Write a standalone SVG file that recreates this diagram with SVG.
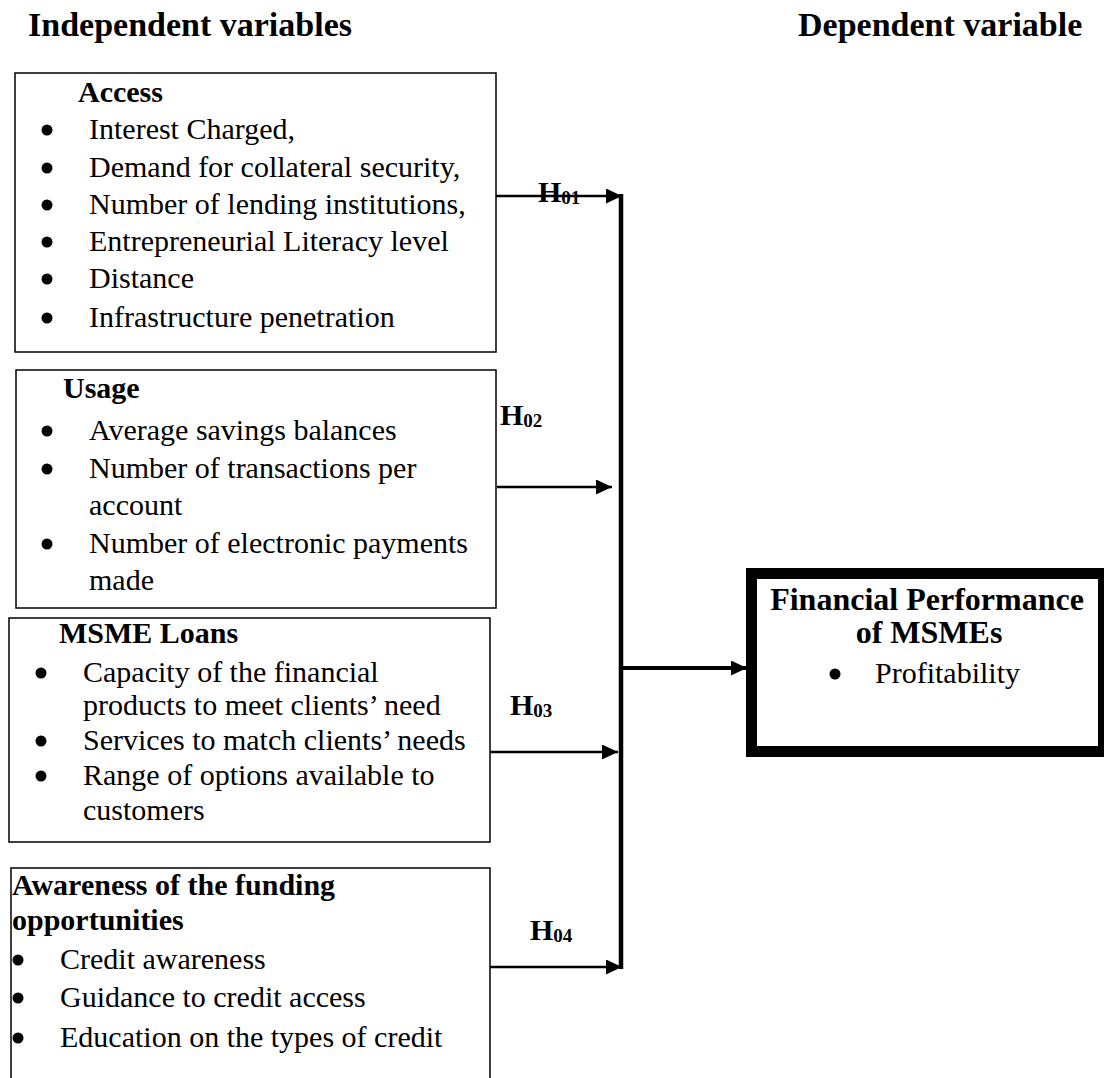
<svg xmlns="http://www.w3.org/2000/svg" width="1104" height="1078" viewBox="0 0 1104 1078">
<style>
.t{font-family:"Liberation Serif","Times New Roman",serif;font-size:30px;fill:#000}
.b{font-weight:bold}
.h{font-size:34px;font-weight:bold}
.c{text-anchor:middle}
.sub{font-size:19px}
.box{fill:#fff;stroke:#000;stroke-width:1.5}
.dot{fill:#000}
.conn{stroke:#000;stroke-width:2.5;fill:none}
</style>
<defs>
<marker id="ah" markerUnits="userSpaceOnUse" markerWidth="17" markerHeight="15" refX="16" refY="7.5" orient="auto">
<path d="M0,0 L16,7.5 L0,15 z" fill="#000"/>
</marker>
</defs>
<rect width="1104" height="1078" fill="#fff"/>
<g id="headers">
<text class="t h" x="28" y="36">Independent variables</text>
<text class="t h" x="798" y="36">Dependent variable</text>
</g>
<g id="access">
<rect class="box" x="15" y="73" width="481" height="279"/>
<text class="t b" x="78" y="102">Access</text>
<circle class="dot" cx="47" cy="130" r="5.5"/><text class="t" x="89" y="139">Interest Charged,</text>
<circle class="dot" cx="47" cy="168" r="5.5"/><text class="t" x="89" y="177">Demand for collateral security,</text>
<circle class="dot" cx="47" cy="205" r="5.5"/><text class="t" x="89" y="214">Number of lending institutions,</text>
<circle class="dot" cx="47" cy="242" r="5.5"/><text class="t" x="89" y="251">Entrepreneurial Literacy level</text>
<circle class="dot" cx="47" cy="279" r="5.5"/><text class="t" x="89" y="288">Distance</text>
<circle class="dot" cx="47" cy="318" r="5.5"/><text class="t" x="89" y="327">Infrastructure penetration</text>
</g>
<g id="usage">
<rect class="box" x="16" y="370" width="480" height="238"/>
<text class="t b" x="63" y="398">Usage</text>
<circle class="dot" cx="47" cy="431" r="5.5"/><text class="t" x="89" y="440">Average savings balances</text>
<circle class="dot" cx="47" cy="469" r="5.5"/><text class="t" x="89" y="478">Number of transactions per</text>
<text class="t" x="89" y="515">account</text>
<circle class="dot" cx="47" cy="544" r="5.5"/><text class="t" x="89" y="553">Number of electronic payments</text>
<text class="t" x="89" y="590">made</text>
</g>
<g id="loans">
<rect class="box" x="9" y="618" width="481" height="224"/>
<text class="t b" x="59" y="643">MSME Loans</text>
<circle class="dot" cx="41" cy="673" r="5.5"/><text class="t" x="83" y="682">Capacity of the financial</text>
<text class="t" x="83" y="715">products to meet clients’ need</text>
<circle class="dot" cx="41" cy="741" r="5.5"/><text class="t" x="83" y="750">Services to match clients’ needs</text>
<circle class="dot" cx="41" cy="776" r="5.5"/><text class="t" x="83" y="785">Range of options available to</text>
<text class="t" x="83" y="820">customers</text>
</g>
<g id="awareness">
<path class="box" d="M11,1078 L11,868 L490,868 L490,1078"/>
<text class="t b" x="12" y="895">Awareness of the funding</text>
<text class="t b" x="12" y="930">opportunities</text>
<circle class="dot" cx="18" cy="960" r="5.5"/><text class="t" x="60" y="969">Credit awareness</text>
<circle class="dot" cx="18" cy="998" r="5.5"/><text class="t" x="60" y="1007">Guidance to credit access</text>
<circle class="dot" cx="18" cy="1038" r="5.5"/><text class="t" x="60" y="1047">Education on the types of credit</text>
</g>
<g id="performance">
<rect x="751.5" y="573.5" width="352" height="178" fill="#fff" stroke="#000" stroke-width="11"/>
<text class="t b c" x="927" y="610" style="font-size:32px">Financial Performance</text>
<text class="t b c" x="929" y="643" style="font-size:32px">of MSMEs</text>
<circle class="dot" cx="835" cy="674" r="5.5"/><text class="t" x="875" y="683">Profitability</text>
</g>
<g id="connectors">
<line class="conn" x1="621" y1="194" x2="621" y2="969" style="stroke-width:4.5"/>
<line class="conn" x1="496" y1="196" x2="622" y2="196" marker-end="url(#ah)"/>
<line class="conn" x1="497" y1="487" x2="612" y2="487" marker-end="url(#ah)"/>
<line class="conn" x1="490" y1="752" x2="618" y2="752" marker-end="url(#ah)"/>
<line class="conn" x1="490" y1="967" x2="622" y2="967" marker-end="url(#ah)"/>
<line class="conn" x1="621" y1="668" x2="747" y2="668" marker-end="url(#ah)" style="stroke-width:4"/>
</g>
<g id="labels">
<text class="t b" x="538" y="202">H<tspan class="sub" dy="2">01</tspan></text>
<text class="t b" x="500" y="425">H<tspan class="sub" dy="2">02</tspan></text>
<text class="t b" x="510" y="715">H<tspan class="sub" dy="2">03</tspan></text>
<text class="t b" x="530" y="940">H<tspan class="sub" dy="2">04</tspan></text>
</g>
</svg>
